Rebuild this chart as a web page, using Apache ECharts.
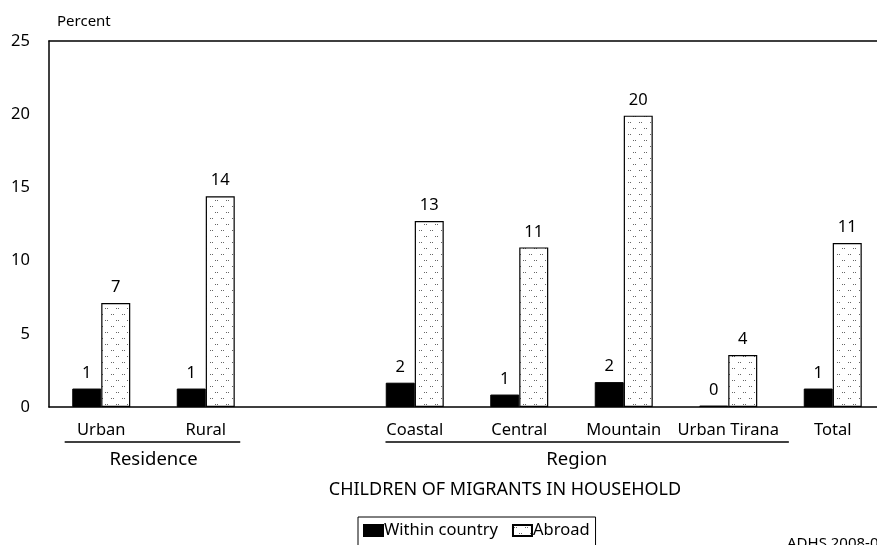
<!DOCTYPE html>
<html>
<head>
<meta charset="utf-8">
<script src="https://cdn.jsdelivr.net/npm/echarts@6/dist/echarts.min.js"></script>
<style>
  html, body { margin: 0; padding: 0; background: #fff; overflow: hidden; }
  #main { width: 886px; height: 545px; }
</style>
</head>
<body>
<div id="main"></div>
<script>
// categories (blank slot separates Residence from Region)
const categories = ['Urban', 'Rural', '', 'Coastal', 'Central', 'Mountain', 'Urban Tirana', 'Total']
const withinCountry = [1.26, 1.26, null, 1.66, 0.85, 1.7, 0.1, 1.26]
const abroad = [7.1, 14.4, null, 12.7, 10.9, 19.9, 3.55, 11.2]
const yTicks = [0, 5, 10, 15, 20, 25]
// group headings: [label, start, end, center] in category units
const groups = [
    ['Residence', -0.35, 1.33, 0.5],
    ['Region', 2.72, 6.58, 4.55]
]

const FONT = 'Noto Sans'

// dotted fill like the original print pattern
function dotPattern() {
    const c = document.createElement('canvas')
    c.width = 11
    c.height = 12
    const ctx = c.getContext('2d')
    ctx.fillStyle = '#fff'
    ctx.fillRect(0, 0, 11, 12)
    ctx.fillStyle = '#666'
    ctx.fillRect(1, 2, 1, 1)
    ctx.fillRect(3, 2, 1, 1)
    ctx.fillRect(6, 8, 1, 1)
    ctx.fillRect(8, 8, 1, 1)
    return c
}

const myChart = echarts.init(document.getElementById('main'))

const labelStyle = {
    show: true,
    position: 'top',
    distance: 7,
    fontFamily: FONT,
    fontSize: 16.5,
    color: '#000',
    formatter: p => Math.round(p.value)
}

myChart.setOption({
    animation: false,
    textStyle: { fontFamily: FONT },
    grid: { left: 49, right: 1, top: 41, bottom: 138 },
    legend: {
        left: 358,
        top: 517,
        orient: 'horizontal',
        itemWidth: 19,
        itemHeight: 11,
        itemGap: 14,
        padding: [5, 6, 14, 5],
        borderColor: '#000',
        borderWidth: 1,
        textStyle: { fontFamily: FONT, fontSize: 16.5, color: '#000', padding: [0, 0, 0, -4] },
        data: [
            { name: 'Within country', icon: 'rect' },
            { name: 'Abroad', icon: 'rect' }
        ]
    },
    xAxis: [{
        type: 'category',
        data: categories,
        axisLine: { lineStyle: { color: '#000', width: 1.5 } },
        axisTick: { show: false },
        axisLabel: { fontFamily: FONT, fontSize: 16.5, color: '#000', margin: 15, interval: 0 }
    }, {
        type: 'category',
        position: 'top',
        data: categories,
        axisLine: { lineStyle: { color: '#000', width: 1.5 } },
        axisTick: { show: false },
        axisLabel: { show: false }
    }],
    yAxis: {
        type: 'value',
        min: 0,
        max: 25,
        interval: 5,
        name: 'Percent',
        nameLocation: 'end',
        nameGap: 12,
        nameTextStyle: { fontFamily: FONT, fontSize: 15, color: '#000', align: 'left', padding: [0, 0, 0, 8] },
        axisLine: { show: true, lineStyle: { color: '#000', width: 1.5 } },
        axisTick: { show: false },
        splitLine: { show: false },
        axisLabel: { fontFamily: FONT, fontSize: 16.5, color: '#000', margin: 19,
            customValues: yTicks }
    },
    series: [{
        name: 'Within country',
        type: 'bar',
        data: withinCountry,
        barWidth: 29,
        barGap: '0%',
        itemStyle: { color: '#000', borderColor: '#000', borderWidth: 1 },
        label: labelStyle
    }, {
        name: 'Abroad',
        type: 'bar',
        data: abroad,
        barWidth: 29,
        barGap: '0%',
        itemStyle: { color: { image: dotPattern(), repeat: 'repeat' }, borderColor: '#000', borderWidth: 1.2 },
        label: labelStyle
    }],
    graphic: []
})

// group underlines and headings, placed through the category scale
const baseY = myChart.convertToPixel({ yAxisIndex: 0 }, 0)
const toX = v => {
    const a = myChart.convertToPixel({ xAxisIndex: 0 }, 0)
    const b = myChart.convertToPixel({ xAxisIndex: 0 }, 1)
    return a + (b - a) * v
}
const graphics = []
groups.forEach(g => {
    graphics.push({
        type: 'line',
        shape: { x1: toX(g[1]), y1: baseY + 35, x2: toX(g[2]), y2: baseY + 35 },
        style: { stroke: '#000', lineWidth: 1.5 }
    })
    graphics.push({
        type: 'text',
        x: toX(g[3]),
        y: baseY + 53,
        style: { text: g[0], font: '18.5px "' + FONT + '"', fill: '#000', align: 'center', verticalAlign: 'middle' }
    })
})
graphics.push({
    type: 'text',
    x: 505,
    y: baseY + 83,
    style: { text: 'CHILDREN OF MIGRANTS IN HOUSEHOLD', font: '18px "' + FONT + '"', fill: '#000', align: 'center', verticalAlign: 'middle' }
})
graphics.push({
    type: 'text',
    x: 787,
    y: 536,
    style: { text: 'ADHS 2008-09', font: '15px "' + FONT + '"', fill: '#000', align: 'left', verticalAlign: 'top' }
})
myChart.setOption({ graphic: graphics })
</script>
</body>
</html>
